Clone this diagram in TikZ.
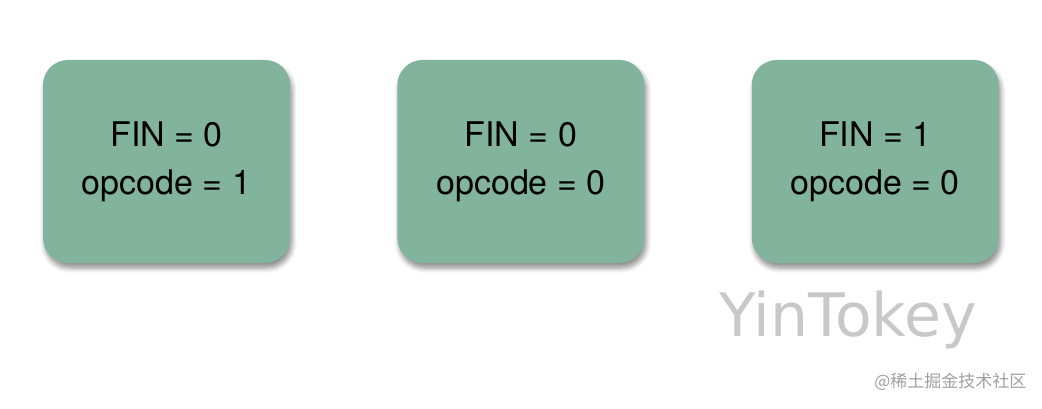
\documentclass[tikz,border=0pt]{standalone}
\usepackage{fontspec}
\setmainfont{TeX Gyre Heros}
\newfontfamily\markfont{DejaVu Sans}
\newfontfamily\cjk{Noto Sans CJK SC}
\usetikzlibrary{positioning,shadows.blur}
\definecolor{framegreen}{RGB}{130,179,156}
\definecolor{markgray}{RGB}{200,200,200}
\definecolor{sitegray}{RGB}{160,160,160}

\begin{document}
\begin{tikzpicture}[x=1pt,y=1pt,node distance=107pt,
  every node/.style={font=\fontsize{34}{48}\selectfont},
  framebox/.style={fill=framegreen,rounded corners=25pt,minimum width=247pt,minimum height=203pt,
    align=center,inner sep=0pt,blur shadow={shadow xshift=2pt,shadow yshift=-5pt,shadow blur steps=6,shadow blur radius=5pt,shadow opacity=45}}]
\useasboundingbox (0,0) rectangle (1042,408);
\node[framebox] (f1) at (166.5,246.5) {FIN = 0\\opcode = 1};
\node[framebox,right=of f1] (f2) {FIN = 0\\opcode = 0};
\node[framebox,right=of f2] (f3) {FIN = 1\\opcode = 0};
% watermark
\node[text=markgray,font=\markfont\fontsize{60}{66}\selectfont] (mark) at (848,88) {YinTokey};
\node[text=sitegray,font=\cjk\fontsize{17}{20}\selectfont,anchor=east] (site) at (1030,26) {@稀土掘金技术社区};
\end{tikzpicture}
\end{document}
